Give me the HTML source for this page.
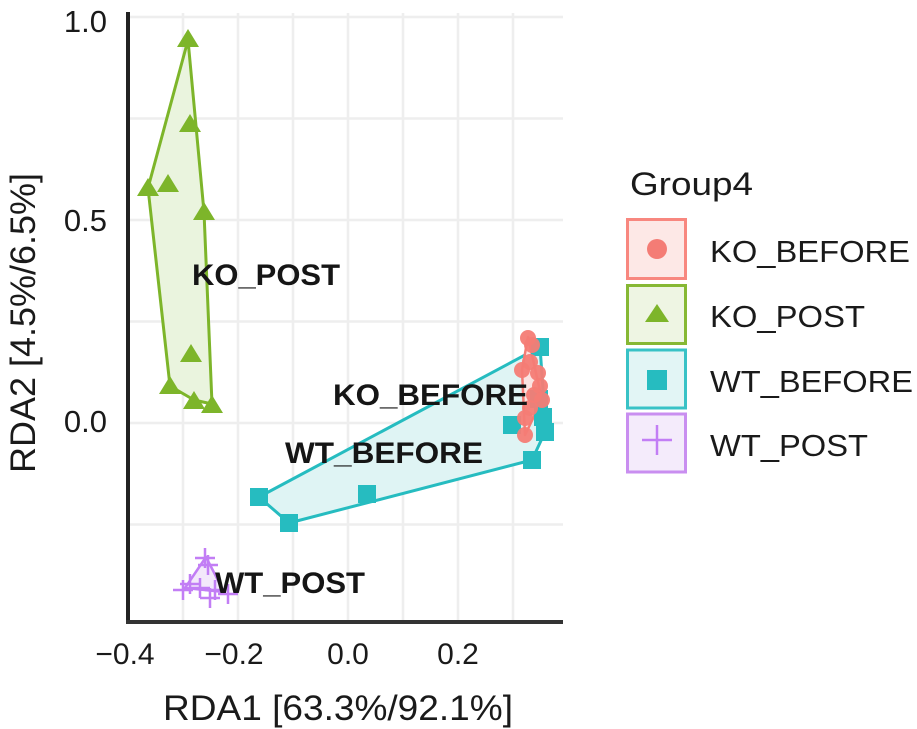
<!DOCTYPE html>
<html>
<head>
<meta charset="utf-8">
<style>
  html, body { margin:0; padding:0; background:#ffffff; }
  svg { display:block; }
  text { font-family: "Liberation Sans", Arial, sans-serif; }
</style>
</head>
<body>
<svg width="917" height="729" viewBox="0 0 917 729" xmlns="http://www.w3.org/2000/svg">
  <rect x="0" y="0" width="917" height="729" fill="#ffffff"/>

  <!-- grid -->
  <g stroke="#eeeeee" stroke-width="2.5" fill="none">
    <line x1="183" y1="13" x2="183" y2="622"/>
    <line x1="238" y1="13" x2="238" y2="622"/>
    <line x1="293" y1="13" x2="293" y2="622"/>
    <line x1="348" y1="13" x2="348" y2="622"/>
    <line x1="403" y1="13" x2="403" y2="622"/>
    <line x1="458" y1="13" x2="458" y2="622"/>
    <line x1="513" y1="13" x2="513" y2="622"/>
    <line x1="128" y1="17" x2="563" y2="17"/>
    <line x1="128" y1="118.5" x2="563" y2="118.5"/>
    <line x1="128" y1="220" x2="563" y2="220"/>
    <line x1="128" y1="321.5" x2="563" y2="321.5"/>
    <line x1="128" y1="423" x2="563" y2="423"/>
    <line x1="128" y1="524.5" x2="563" y2="524.5"/>
  </g>

  <!-- hulls -->
  <polygon points="188,40 204,212 212,404 194,400 170,386 148,188" fill="#e9f3dc" fill-opacity="0.95" stroke="#7db52a" stroke-width="3" stroke-linejoin="round"/>
  <polygon points="259,497 540,347 545,417 545,432 532,460 289,523" fill="#ddf3f3" fill-opacity="0.95" stroke="#26bcc0" stroke-width="3" stroke-linejoin="round"/>
  <polygon points="528,337 542,400 525,435 522,370" fill="#fbe3e1" stroke="#f47c75" stroke-width="2.5" stroke-linejoin="round"/>
  <polygon points="206,557 185,588 224,592" fill="#f3e8fb" stroke="#c27ef5" stroke-width="2.5" stroke-linejoin="round"/>

  <!-- KO_POST triangles -->
  <g fill="#7db52a">
    <polygon points="188,29 199,47 177,47"/>
    <polygon points="190,114 201,132 179,132"/>
    <polygon points="148,178 159,196 137,196"/>
    <polygon points="168,174 179,192 157,192"/>
    <polygon points="204,202 215,220 193,220"/>
    <polygon points="191,344 202,362 180,362"/>
    <polygon points="170,376 181,394 159,394"/>
    <polygon points="194,391 205,409 183,409"/>
    <polygon points="212,395 223,413 201,413"/>
  </g>

  <!-- WT_BEFORE squares -->
  <g fill="#26bcc0">
    <rect x="250" y="488" width="18" height="18"/>
    <rect x="280" y="514" width="18" height="18"/>
    <rect x="358" y="485" width="18" height="18"/>
    <rect x="523" y="451" width="18" height="18"/>
    <rect x="503" y="416" width="18" height="18"/>
    <rect x="531" y="338" width="18" height="18"/>
    <rect x="534" y="408" width="18" height="18"/>
    <rect x="536" y="423" width="18" height="18"/>
    <rect x="530" y="390" width="18" height="18"/>
  </g>

  <!-- KO_BEFORE circles -->
  <g fill="#f47c75" fill-opacity="0.95">
    <circle cx="528" cy="338" r="8"/>
    <circle cx="532" cy="345" r="8"/>
    <circle cx="522" cy="370" r="8"/>
    <circle cx="530" cy="362" r="8"/>
    <circle cx="538" cy="373" r="8"/>
    <circle cx="540" cy="386" r="8"/>
    <circle cx="534" cy="395" r="8"/>
    <circle cx="542" cy="400" r="8"/>
    <circle cx="530" cy="408" r="8"/>
    <circle cx="525" cy="418" r="8"/>
    <circle cx="525" cy="435" r="8"/>
  </g>

  <!-- WT_POST pluses -->
  <g stroke="#c27ef5" stroke-width="2.5" fill="none">
    <path d="M195,558 h20 M205,548 v20"/>
    <path d="M198,565 h20 M208,555 v20"/>
    <path d="M180,584 h20 M190,574 v20"/>
    <path d="M173,590 h20 M183,580 v20"/>
    <path d="M190,588 h20 M200,578 v20"/>
    <path d="M205,590 h20 M215,580 v20"/>
    <path d="M218,594 h20 M228,584 v20"/>
    <path d="M200,598 h20 M210,588 v20"/>
  </g>

  <!-- axes -->
  <line x1="128" y1="12" x2="128" y2="624" stroke="#222222" stroke-width="4"/>
  <line x1="126" y1="622" x2="563" y2="622" stroke="#333333" stroke-width="4"/>

  <!-- group labels -->
  <g font-weight="bold" font-size="30" fill="#151515">
    <text x="192" y="285" textLength="148" lengthAdjust="spacingAndGlyphs">KO_POST</text>
    <text x="333" y="405" textLength="195" lengthAdjust="spacingAndGlyphs">KO_BEFORE</text>
    <text x="285" y="463" textLength="198" lengthAdjust="spacingAndGlyphs">WT_BEFORE</text>
    <text x="215" y="593" textLength="150" lengthAdjust="spacingAndGlyphs">WT_POST</text>
  </g>

  <!-- y tick labels -->
  <g font-size="31" fill="#1a1a1a" text-anchor="end">
    <text x="107" y="32">1.0</text>
    <text x="107" y="231">0.5</text>
    <text x="107" y="432">0.0</text>
  </g>

  <!-- x tick labels -->
  <g font-size="30" fill="#1a1a1a" text-anchor="middle">
    <text x="125" y="664">−0.4</text>
    <text x="234" y="664">−0.2</text>
    <text x="348" y="664">0.0</text>
    <text x="458" y="664">0.2</text>
  </g>

  <!-- axis titles -->
  <text x="338" y="720" font-size="35" fill="#1a1a1a" text-anchor="middle" textLength="350" lengthAdjust="spacingAndGlyphs">RDA1 [63.3%/92.1%]</text>
  <text transform="translate(35,323) rotate(-90)" font-size="35" fill="#1a1a1a" text-anchor="middle" textLength="300" lengthAdjust="spacingAndGlyphs">RDA2 [4.5%/6.5%]</text>

  <!-- legend -->
  <text x="630" y="195" font-size="32" fill="#1a1a1a" textLength="123" lengthAdjust="spacingAndGlyphs">Group4</text>

  <rect x="627.5" y="219.5" width="58" height="59" fill="#fde8e6" stroke="#f8877f" stroke-width="3"/>
  <circle cx="657" cy="249" r="10" fill="#f47c75"/>

  <rect x="627.5" y="285.5" width="58" height="58" fill="#eef5e3" stroke="#86b834" stroke-width="3"/>
  <polygon points="657,304 669,322 645,322" fill="#7db52a"/>

  <rect x="627.5" y="350" width="58" height="58" fill="#e2f5f5" stroke="#38c2c6" stroke-width="3"/>
  <rect x="647" y="370" width="20" height="20" fill="#26bcc0"/>

  <rect x="627.5" y="414" width="58" height="58" fill="#f4ebfb" stroke="#c98ef0" stroke-width="3"/>
  <path d="M642,440 h30 M657,425 v30" stroke="#c27ef5" stroke-width="2.5" fill="none"/>

  <g font-size="31" fill="#1a1a1a">
    <text x="710" y="262" textLength="200" lengthAdjust="spacingAndGlyphs">KO_BEFORE</text>
    <text x="710" y="327" textLength="155" lengthAdjust="spacingAndGlyphs">KO_POST</text>
    <text x="710" y="392" textLength="203" lengthAdjust="spacingAndGlyphs">WT_BEFORE</text>
    <text x="710" y="456" textLength="158" lengthAdjust="spacingAndGlyphs">WT_POST</text>
  </g>
</svg>
</body>
</html>
